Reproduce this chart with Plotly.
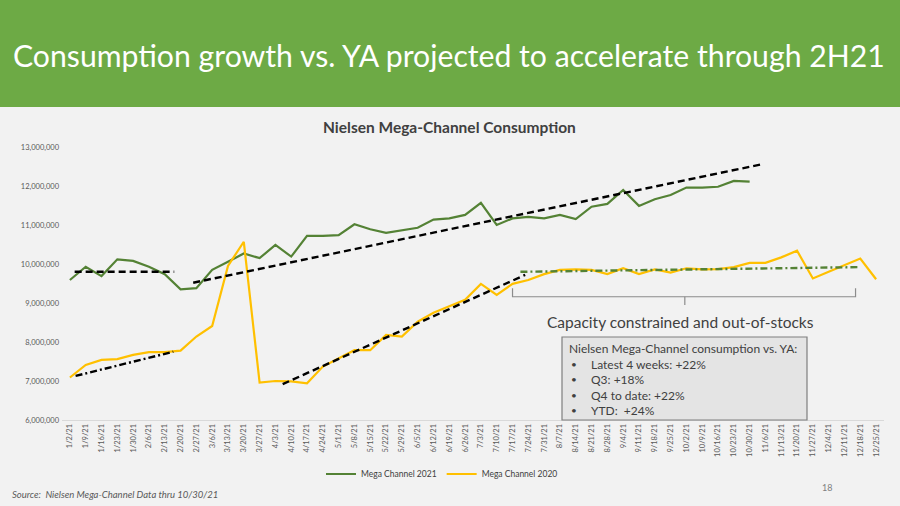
import plotly.graph_objects as go

# ---------------- data ----------------
week_labels = ["1/2/21", "1/9/21", "1/16/21", "1/23/21", "1/30/21", "2/6/21", "2/13/21", "2/20/21",
               "2/27/21", "3/6/21", "3/13/21", "3/20/21", "3/27/21", "4/3/21", "4/10/21", "4/17/21",
               "4/24/21", "5/1/21", "5/8/21", "5/15/21", "5/22/21", "5/29/21", "6/5/21", "6/12/21",
               "6/19/21", "6/26/21", "7/3/21", "7/10/21", "7/17/21", "7/24/21", "7/31/21", "8/7/21",
               "8/14/21", "8/21/21", "8/28/21", "9/4/21", "9/11/21", "9/18/21", "9/25/21", "10/2/21",
               "10/9/21", "10/16/21", "10/23/21", "10/30/21", "11/6/21", "11/13/21", "11/20/21",
               "11/27/21", "12/4/21", "12/11/21", "12/18/21", "12/25/21"]

mega_2021 = [9590000, 9930000, 9690000, 10120000, 10080000, 9930000, 9740000, 9350000, 9380000,
             9850000, 10060000, 10270000, 10150000, 10490000, 10190000, 10720000, 10720000, 10740000,
             11020000, 10890000, 10800000, 10870000, 10930000, 11140000, 11170000, 11260000, 11570000,
             11000000, 11170000, 11210000, 11170000, 11260000, 11150000, 11470000, 11540000, 11900000,
             11490000, 11660000, 11770000, 11960000, 11960000, 11980000, 12130000, 12110000]

mega_2020 = [7090000, 7410000, 7540000, 7560000, 7670000, 7740000, 7740000, 7780000, 8140000,
             8410000, 9950000, 10570000, 6960000, 7000000, 6990000, 6940000, 7370000, 7580000,
             7790000, 7790000, 8180000, 8140000, 8520000, 8750000, 8910000, 9080000, 9490000,
             9210000, 9490000, 9590000, 9740000, 9850000, 9860000, 9850000, 9740000, 9890000,
             9740000, 9860000, 9780000, 9890000, 9860000, 9870000, 9920000, 10030000, 10030000,
             10170000, 10340000, 9630000, 9800000, 9970000, 10140000, 9610000]

# hand-drawn trend lines (week index, value)
trend_flat_2021_x = [0.3, 6.6]
trend_flat_2021_y = [9800000, 9800000]
trend_up_2021_x = [7.8, 43.8]
trend_up_2021_y = [9520000, 12560000]
trend_early_2020_x = [0.36, 6.54]
trend_early_2020_y = [7130000, 7750000]
trend_recov_2020_x = [13.46, 28.8]
trend_recov_2020_y = [6920000, 9720000]
trend_capacity_x = [28.5, 50.0]
trend_capacity_y = [9800000, 9920000]

y_tick_vals = [6000000, 7000000, 8000000, 9000000, 10000000, 11000000, 12000000, 13000000]

header_title = "Consumption growth vs. YA projected to accelerate through 2H21"
chart_title = "Nielsen Mega-Channel Consumption"
bracket_label = "Capacity constrained and out-of-stocks"
box_lines = ["Nielsen Mega-Channel consumption vs. YA:",
             "Latest 4 weeks: +22%",
             "Q3: +18%",
             "Q4 to date: +22%",
             "YTD:  +24%"]
source_text = "Source:  Nielsen Mega-Channel Data thru 10/30/21"
page_number = "18"

# ---------------- layout geometry ----------------
W_PX, H_PX = 900, 506
L, R, T, B = 62, 884, 147, 420
PW, PH = R - L, B - T


def px(x):
    return (x - L) / PW


def py(y):
    return (B - y) / PH


GREEN = "#548235"
YELLOW = "#FFC000"
TXT = "#404040"
FONT = "Lato, 'Open Sans', sans-serif"

x_idx = list(range(len(week_labels)))

fig = go.Figure()

fig.add_trace(go.Scatter(x=x_idx[:len(mega_2021)], y=mega_2021, mode="lines",
                         name="Mega Channel 2021", line=dict(color=GREEN, width=2.2)))
fig.add_trace(go.Scatter(x=x_idx[:len(mega_2020)], y=mega_2020, mode="lines",
                         name="Mega Channel 2020", line=dict(color=YELLOW, width=2.2)))

dash_style = "7px,4px"
dashdot_style = "7px,3px,2px,3px"
for tx, ty, col, dsh in [
    (trend_flat_2021_x, trend_flat_2021_y, "black", dash_style),
    (trend_up_2021_x, trend_up_2021_y, "black", dash_style),
    (trend_early_2020_x, trend_early_2020_y, "black", dashdot_style),
    (trend_recov_2020_x, trend_recov_2020_y, "black", dash_style),
    (trend_capacity_x, trend_capacity_y, GREEN, dashdot_style),
]:
    fig.add_trace(go.Scatter(x=tx, y=ty, mode="lines", showlegend=False, hoverinfo="skip",
                             line=dict(color=col, width=2.4, dash=dsh)))

shapes = []
# green header band
shapes.append(dict(type="rect", xref="paper", yref="paper", x0=px(0), x1=px(W_PX),
                   y0=py(107), y1=py(-2), fillcolor="#6DAA45", line=dict(width=0), layer="below"))
# bracket
br_y, br_top, br_bot = 9160000, 9380000, 8950000
br_l, br_r, br_c = 28.0, 49.7, 38.9
shapes.append(dict(type="path", xref="x", yref="y",
                   path=f"M {br_l},{br_top} L {br_l},{br_y} L {br_r},{br_y} L {br_r},{br_top}",
                   line=dict(color="#8c8c8c", width=1.2)))
shapes.append(dict(type="line", xref="x", yref="y", x0=br_c, x1=br_c, y0=br_y, y1=br_bot,
                   line=dict(color="#8c8c8c", width=1.2)))
# info box
shapes.append(dict(type="rect", xref="paper", yref="paper", x0=px(562), x1=px(807),
                   y0=py(420), y1=py(337), fillcolor="#e4e4e4",
                   line=dict(color="#7f7f7f", width=1.2)))

annotations = []
annotations.append(dict(text=header_title, xref="paper", yref="paper", x=px(449), y=py(55),
                        showarrow=False, xanchor="center", yanchor="middle",
                        font=dict(family=FONT, size=30.2, color="white")))
annotations.append(dict(text="<b>" + chart_title + "</b>", xref="paper", yref="paper", x=px(449),
                        y=py(127), showarrow=False, xanchor="center", yanchor="middle",
                        font=dict(family=FONT, size=15.5, color=TXT)))
annotations.append(dict(text=bracket_label, xref="paper", yref="paper", x=px(680), y=py(322),
                        showarrow=False, xanchor="center", yanchor="middle",
                        font=dict(family=FONT, size=15.5, color=TXT)))
line_ys = [348, 364, 379, 395, 410]
for i, (txt, yy) in enumerate(zip(box_lines, line_ys)):
    if i == 0:
        annotations.append(dict(text=txt, xref="paper", yref="paper", x=px(567), y=py(yy),
                                showarrow=False, xanchor="left", yanchor="middle",
                                font=dict(family=FONT, size=12, color=TXT)))
    else:
        annotations.append(dict(text="•", xref="paper", yref="paper", x=px(569), y=py(yy),
                                showarrow=False, xanchor="left", yanchor="middle",
                                font=dict(family=FONT, size=10, color=TXT)))
        annotations.append(dict(text=txt, xref="paper", yref="paper", x=px(589), y=py(yy),
                                showarrow=False, xanchor="left", yanchor="middle",
                                font=dict(family=FONT, size=12, color=TXT)))
annotations.append(dict(text="<i>" + source_text + "</i>", xref="paper", yref="paper", x=px(10),
                        y=py(494), showarrow=False, xanchor="left", yanchor="middle",
                        font=dict(family=FONT, size=9.5, color="#595959")))
annotations.append(dict(text=page_number, xref="paper", yref="paper", x=px(827), y=py(487),
                        showarrow=False, xanchor="center", yanchor="middle",
                        font=dict(family=FONT, size=9, color="#7f7f7f")))

fig.update_layout(
    width=W_PX, height=H_PX,
    margin=dict(l=L, r=W_PX - R, t=T, b=H_PX - B, autoexpand=False),
    paper_bgcolor="#f2f2f2", plot_bgcolor="rgba(0,0,0,0)",
    font=dict(family=FONT, color="#595959"),
    shapes=shapes, annotations=annotations,
    showlegend=True,
    legend=dict(orientation="h", x=px(442), y=py(474), xanchor="center", yanchor="middle",
                font=dict(family=FONT, size=8.5, color=TXT), bgcolor="rgba(0,0,0,0)",
                itemwidth=30, tracegroupgap=0),
    xaxis=dict(range=[-0.5, 51.5], tickmode="array", tickvals=x_idx, ticktext=week_labels,
               tickangle=-90, tickfont=dict(size=7.5, color="#595959"), showgrid=False,
               zeroline=False, showline=True, linecolor="#d9d9d9", linewidth=1, ticks=""),
    yaxis=dict(range=[6000000, 13000000], tickmode="array", tickvals=y_tick_vals,
               tickformat=",d", tickfont=dict(size=7.5, color="#595959"), showgrid=False,
               zeroline=False, showline=False, ticks="", ticklabelstandoff=2),
)

fig.write_html("out.html", config={"displayModeBar": False},
               post_script="document.body.style.margin='0';document.body.style.overflow='hidden';")
